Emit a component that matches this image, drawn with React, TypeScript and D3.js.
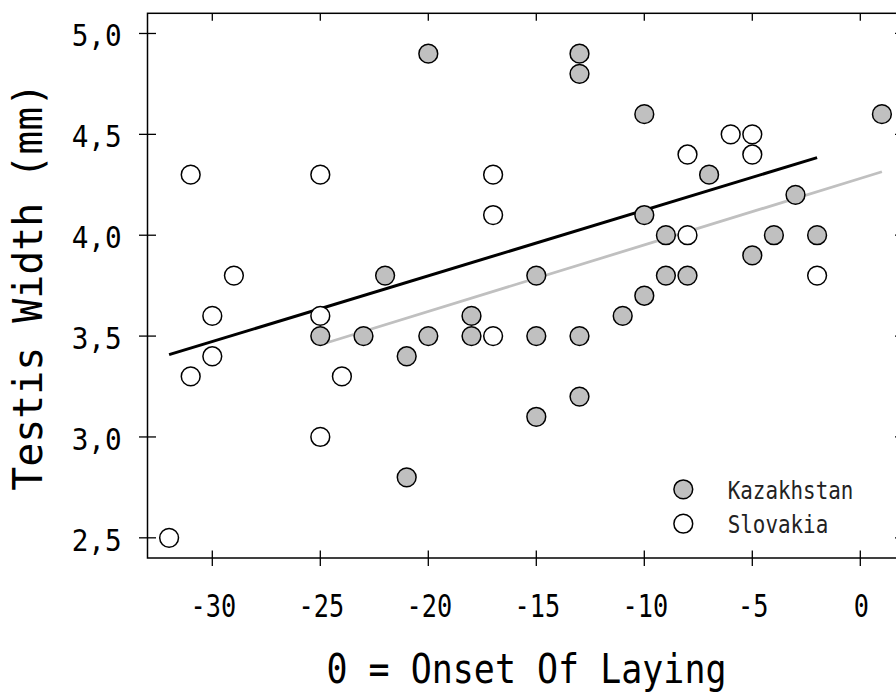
import React from 'react';
import * as d3 from 'd3';

// Kazakhstan (grey filled)
const kazX = [-20, -13, -13, -10, 1, -7, -3, -10, -9, -4, -2, -5, -22, -15, -9, -8, -10, -18, -11, -25, -23, -20, -18, -15, -13, -21, -13, -15, -21];
const kazY = [4.9, 4.9, 4.8, 4.6, 4.6, 4.3, 4.2, 4.1, 4.0, 4.0, 4.0, 3.9, 3.8, 3.8, 3.8, 3.8, 3.7, 3.6, 3.6, 3.5, 3.5, 3.5, 3.5, 3.5, 3.5, 3.4, 3.2, 3.1, 2.8];
// Slovakia (open)
const slovX = [-32, -31, -31, -30, -30, -29, -25, -25, -25, -24, -17, -17, -17, -8, -8, -6, -5, -5, -2];
const slovY = [2.5, 4.3, 3.3, 3.6, 3.4, 3.8, 4.3, 3.6, 3.0, 3.3, 4.3, 4.1, 3.5, 4.4, 4.0, 4.5, 4.5, 4.4, 3.8];

const seriesNames = ['Kazakhstan', 'Slovakia'];
const xTickValues = [-30, -25, -20, -15, -10, -5, 0];
const yTickValues = [2.5, 3.0, 3.5, 4.0, 4.5, 5.0];
const xTitle = '0 = Onset Of Laying';
const yTitle = 'Testis Width (mm)';

const FONT = '"DejaVu Sans Mono", monospace';
const GREY = '#c0c0c0';

function fit(xs: number[], ys: number[]) {
  const mx = d3.mean(xs) as number;
  const my = d3.mean(ys) as number;
  let sxy = 0, sxx = 0;
  xs.forEach((v, i) => { sxy += (v - mx) * (ys[i] - my); sxx += (v - mx) * (v - mx); });
  const b = sxy / sxx;
  const a = my - b * mx;
  const x0 = d3.min(xs) as number, x1 = d3.max(xs) as number;
  return [[x0, a + b * x0], [x1, a + b * x1]] as [number, number][];
}

export default function App() {
  const W = 896, H = 693;
  const x = d3.scaleLinear().domain([-33, 2]).range([147.5, 903.5]);
  const y = d3.scaleLinear().domain([2.4, 5.1]).range([558, 13.3]);
  const [xl, xr] = x.range();
  const [yb, yt] = y.range();
  const line = d3.line<[number, number]>().x(d => x(d[0])).y(d => y(d[1]));
  const fmtY = (v: number) => d3.format('.1f')(v).replace('.', ',');
  const kaz = kazX.map((v, i) => [v, kazY[i]]);
  const slov = slovX.map((v, i) => [v, slovY[i]]);
  const kazFit = fit(kazX, kazY);
  const slovFit = fit(slovX, slovY);
  const cx = (xl + xr) / 2;
  const cy = (yb + yt) / 2;

  return (
    <svg width={W} height={H} style={{ position: 'absolute', left: 0, top: 0, background: '#fff' }}>
      {/* frame */}
      <rect x={xl} y={yt} width={xr - xl} height={yb - yt} fill="none" stroke="#000" strokeWidth={1.5} />
      {/* bottom & top ticks */}
      {xTickValues.map(v => (
        <g key={'xt' + v}>
          <line x1={x(v)} x2={x(v)} y1={yb - 7.5} y2={yb + 8} stroke="#000" strokeWidth={1.3} />
          <line x1={x(v)} x2={x(v)} y1={yt} y2={yt + 7.5} stroke="#000" strokeWidth={1.3} />
          <text x={x(v) + 1} y={617} textAnchor="middle" fontFamily={FONT} fontSize={32}
            textLength={String(v).length * 15.2} lengthAdjust="spacingAndGlyphs" fill="#000">{String(v)}</text>
        </g>
      ))}
      {/* left & right ticks */}
      {yTickValues.map(v => (
        <g key={'yt' + v}>
          <line x1={xl - 8.5} x2={xl + 8.5} y1={y(v)} y2={y(v)} stroke="#000" strokeWidth={1.3} />
          <line x1={xr - 8.5} x2={xr + 8.5} y1={y(v)} y2={y(v)} stroke="#000" strokeWidth={1.3} />
          <text x={121.7} y={y(v) + 13} textAnchor="end" fontFamily={FONT} fontSize={31}
            textLength={50} lengthAdjust="spacingAndGlyphs" fill="#000">{fmtY(v)}</text>
        </g>
      ))}
      {/* regression lines */}
      <path d={line(kazFit) || ''} fill="none" stroke={GREY} strokeWidth={2.8} />
      <path d={line(slovFit) || ''} fill="none" stroke="#000" strokeWidth={3} />
      {/* points */}
      {kaz.map((d, i) => (
        <circle key={'k' + i} cx={x(d[0])} cy={y(d[1])} r={9.4} fill={GREY} stroke="#000" strokeWidth={1.5} />
      ))}
      {slov.map((d, i) => (
        <circle key={'s' + i} cx={x(d[0])} cy={y(d[1])} r={9.4} fill="#fff" stroke="#000" strokeWidth={1.5} />
      ))}
      {/* legend */}
      {seriesNames.map((name, i) => (
        <g key={name}>
          <circle cx={683.3} cy={489.3 + i * 34.4} r={9.4} fill={i === 0 ? GREY : '#fff'} stroke="#000" strokeWidth={1.5} />
          <text x={727.7} y={499 + i * 34.4} fontFamily={FONT} fontSize={24} fill="#222"
            textLength={name.length * 12.57} lengthAdjust="spacingAndGlyphs">{name}</text>
        </g>
      ))}
      {/* axis titles */}
      <text x={cx + 1} y={683} textAnchor="middle" fontFamily={FONT} fontSize={41}
        textLength={400} lengthAdjust="spacingAndGlyphs" fill="#000">{xTitle}</text>
      <text transform={`translate(42,${cy + 1}) rotate(-90)`} textAnchor="middle" fontFamily={FONT} fontSize={41}
        textLength={408} lengthAdjust="spacingAndGlyphs" fill="#000">{yTitle}</text>
    </svg>
  );
}
